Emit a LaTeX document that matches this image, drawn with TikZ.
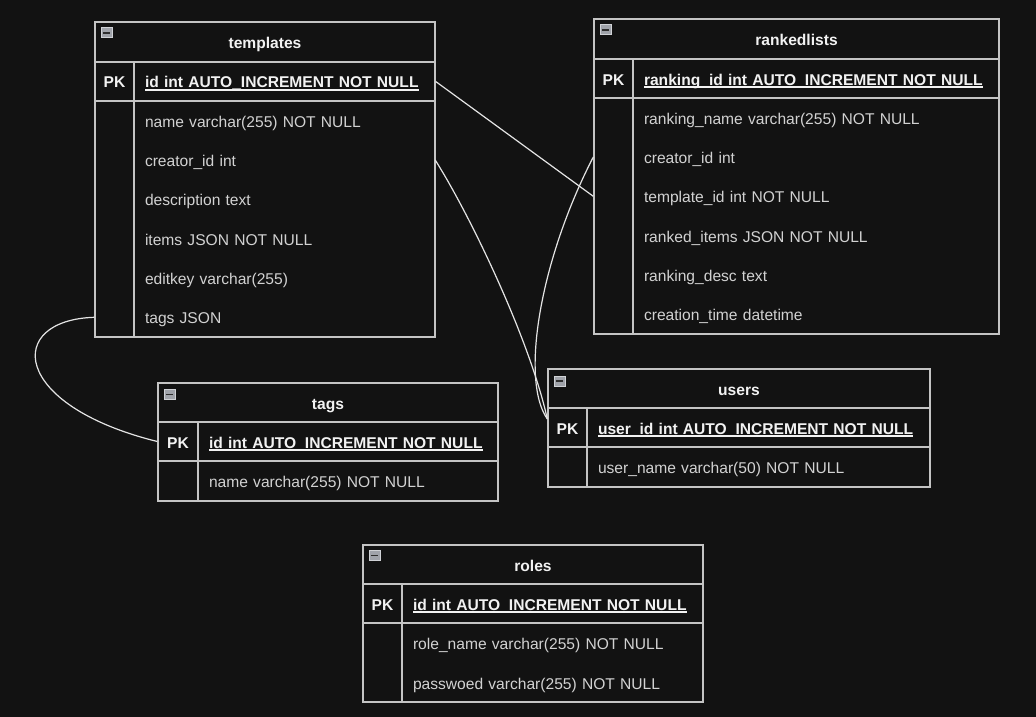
\documentclass[tikz,border=0pt]{standalone}
\usepackage{fontspec}
\setmainfont{Liberation Sans}
\usetikzlibrary{calc}
\definecolor{bg}{HTML}{121212}
\definecolor{bd}{HTML}{C4C4C4}
\definecolor{ln}{HTML}{E4E4E4}
\definecolor{hi}{HTML}{F2F2F2}
\definecolor{lo}{HTML}{D2D2D2}
\definecolor{icfill}{HTML}{A0A3AA}
\definecolor{icbd}{HTML}{D0D2D6}
\definecolor{icdark}{HTML}{2E2E2E}
\newcommand\fsz{\fontsize{15.6pt}{18pt}\selectfont}
\newcommand\pkul[1]{\setbox0=\hbox{#1}\rlap{\rule[-2.6pt]{\wd0}{1.3pt}}\box0}
\tikzset{
  box/.style={draw=bd, fill=bg, line width=1.4pt, inner sep=0pt},
  hdr/.style={box, font=\fsz\bfseries, text=hi, text height=13pt, text depth=0pt},
  keyc/.style={box, font=\fsz\bfseries, text=hi, text height=13pt, text depth=0pt},
  pkc/.style={box, font=\fsz\bfseries, text=hi, inner xsep=11pt, inner ysep=0pt,
    text width=#1, align=left, text height=13pt, text depth=0pt, minimum height=39pt},
  fld/.style={font=\fsz, text=lo, inner xsep=11pt, inner ysep=0pt,
    text width=#1, align=left, text height=13pt, text depth=0pt},
  conn/.style={draw=ln, line width=1.2pt},
  icon/.style={draw=icbd, fill=icfill, line width=0.8pt, inner sep=0pt,
    minimum width=11pt, minimum height=10pt, anchor=north west,
    path picture={\draw[icdark, line width=1.6pt]
      ([xshift=2pt]path picture bounding box.west) -- ([xshift=-2pt]path picture bounding box.east);}}
}
\begin{document}
\begin{tikzpicture}[x=1pt, y=-1pt]
\fill[bg] (0,0) rectangle (1036,717);
\useasboundingbox (0,0) rectangle (1036,717);

% ---------- templates ----------
\node[hdr, minimum width=340pt, minimum height=40pt] (tpl) at (265,42) {templates};
\node[icon] (tpl-ic) at (100.5,27.5) {};
\node[keyc, minimum width=39pt, minimum height=39pt] (tpl-k) at (114.5,81.5) {PK};
\node[pkc=279pt] (tpl-id) at (284.5,81.5) {\pkul{id int AUTO\_INCREMENT NOT NULL}};
\node[box, minimum width=39pt, minimum height=236pt] (tpl-kb) at (114.5,219) {};
\node[box, minimum width=301pt, minimum height=236pt] (tpl-fb) at (284.5,219) {};
\node[fld=279pt] (tpl-name) at (284.5,120.7) {name varchar(255) NOT NULL};
\node[fld=279pt] (tpl-cr) at (284.5,160) {creator\_id int};
\node[fld=279pt] (tpl-desc) at (284.5,199.3) {description text};
\node[fld=279pt] (tpl-items) at (284.5,238.7) {items JSON NOT NULL};
\node[fld=279pt] (tpl-ek) at (284.5,278) {editkey varchar(255)};
\node[fld=279pt] (tpl-tags) at (284.5,317.3) {tags JSON};

% ---------- rankedlists ----------
\node[hdr, minimum width=405pt, minimum height=40pt] (rl) at (796.5,39) {rankedlists};
\node[icon] (rl-ic) at (599.5,24.5) {};
\node[keyc, minimum width=39pt, minimum height=39pt] (rl-k) at (613.5,78.5) {PK};
\node[pkc=344pt] (rl-id) at (816,78.5) {\pkul{ranking\_id int AUTO\_INCREMENT NOT NULL}};
\node[box, minimum width=39pt, minimum height=236pt] (rl-kb) at (613.5,216) {};
\node[box, minimum width=366pt, minimum height=236pt] (rl-fb) at (816,216) {};
\node[fld=344pt] (rl-name) at (816,117.7) {ranking\_name varchar(255) NOT NULL};
\node[fld=344pt] (rl-cr) at (816,157) {creator\_id int};
\node[fld=344pt] (rl-tid) at (816,196.3) {template\_id int NOT NULL};
\node[fld=344pt] (rl-items) at (816,235.7) {ranked\_items JSON NOT NULL};
\node[fld=344pt] (rl-desc) at (816,275) {ranking\_desc text};
\node[fld=344pt] (rl-time) at (816,314.3) {creation\_time datetime};

% ---------- users ----------
\node[hdr, minimum width=382pt, minimum height=39pt] (us) at (739,388.5) {users};
\node[icon] (us-ic) at (553.5,375.5) {};
\node[keyc, minimum width=39pt, minimum height=39pt] (us-k) at (567.5,427.5) {PK};
\node[pkc=321pt] (us-id) at (758.5,427.5) {\pkul{user\_id int AUTO\_INCREMENT NOT NULL}};
\node[box, minimum width=39pt, minimum height=40pt] (us-kb) at (567.5,467) {};
\node[box, minimum width=343pt, minimum height=40pt] (us-fb) at (758.5,467) {};
\node[fld=321pt] (us-name) at (758.5,467) {user\_name varchar(50) NOT NULL};

% ---------- tags ----------
\node[hdr, minimum width=340pt, minimum height=39pt] (tg) at (328,402.5) {tags};
\node[icon] (tg-ic) at (163.5,389) {};
\node[keyc, minimum width=40pt, minimum height=39pt] (tg-k) at (178,441.5) {PK};
\node[pkc=278pt] (tg-id) at (348,441.5) {\pkul{id int AUTO\_INCREMENT NOT NULL}};
\node[box, minimum width=40pt, minimum height=40pt] (tg-kb) at (178,481) {};
\node[box, minimum width=300pt, minimum height=40pt] (tg-fb) at (348,481) {};
\node[fld=278pt] (tg-name) at (348,481) {name varchar(255) NOT NULL};

% ---------- roles ----------
\node[hdr, minimum width=340pt, minimum height=39pt] (ro) at (533,564.5) {roles};
\node[icon] (ro-ic) at (368.5,550) {};
\node[keyc, minimum width=39pt, minimum height=39pt] (ro-k) at (382.5,603.5) {PK};
\node[pkc=279pt] (ro-id) at (552.5,603.5) {\pkul{id int AUTO\_INCREMENT NOT NULL}};
\node[box, minimum width=39pt, minimum height=79pt] (ro-kb) at (382.5,662.5) {};
\node[box, minimum width=301pt, minimum height=79pt] (ro-fb) at (552.5,662.5) {};
\node[fld=279pt] (ro-name) at (552.5,643) {role\_name varchar(255) NOT NULL};
\node[fld=279pt] (ro-pw) at (552.5,682.7) {passwoed varchar(255) NOT NULL};

% ---------- connector end points ----------
\coordinate (rl-tid-l) at (rl-kb.west |- rl-tid);
\coordinate (rl-cr-l) at (rl-kb.west |- rl-cr);
\coordinate (tpl-tags-l) at (tpl-kb.west |- tpl-tags);
\coordinate (us-in) at ($(us-k.west)+(0,-8.5)$);

% ---------- connectors ----------
\draw[conn] (tpl-id.east) -- (rl-tid-l);
\draw[conn] (tpl-cr.east) .. controls (470,215) and (530,340) .. (us-in);
\draw[conn] (rl-cr-l) .. controls (540,260) and (520,380) .. (us-in);
\draw[conn] (tpl-tags-l) .. controls (5,320) and (10,405) .. (tg-k.west);
\end{tikzpicture}
\end{document}
